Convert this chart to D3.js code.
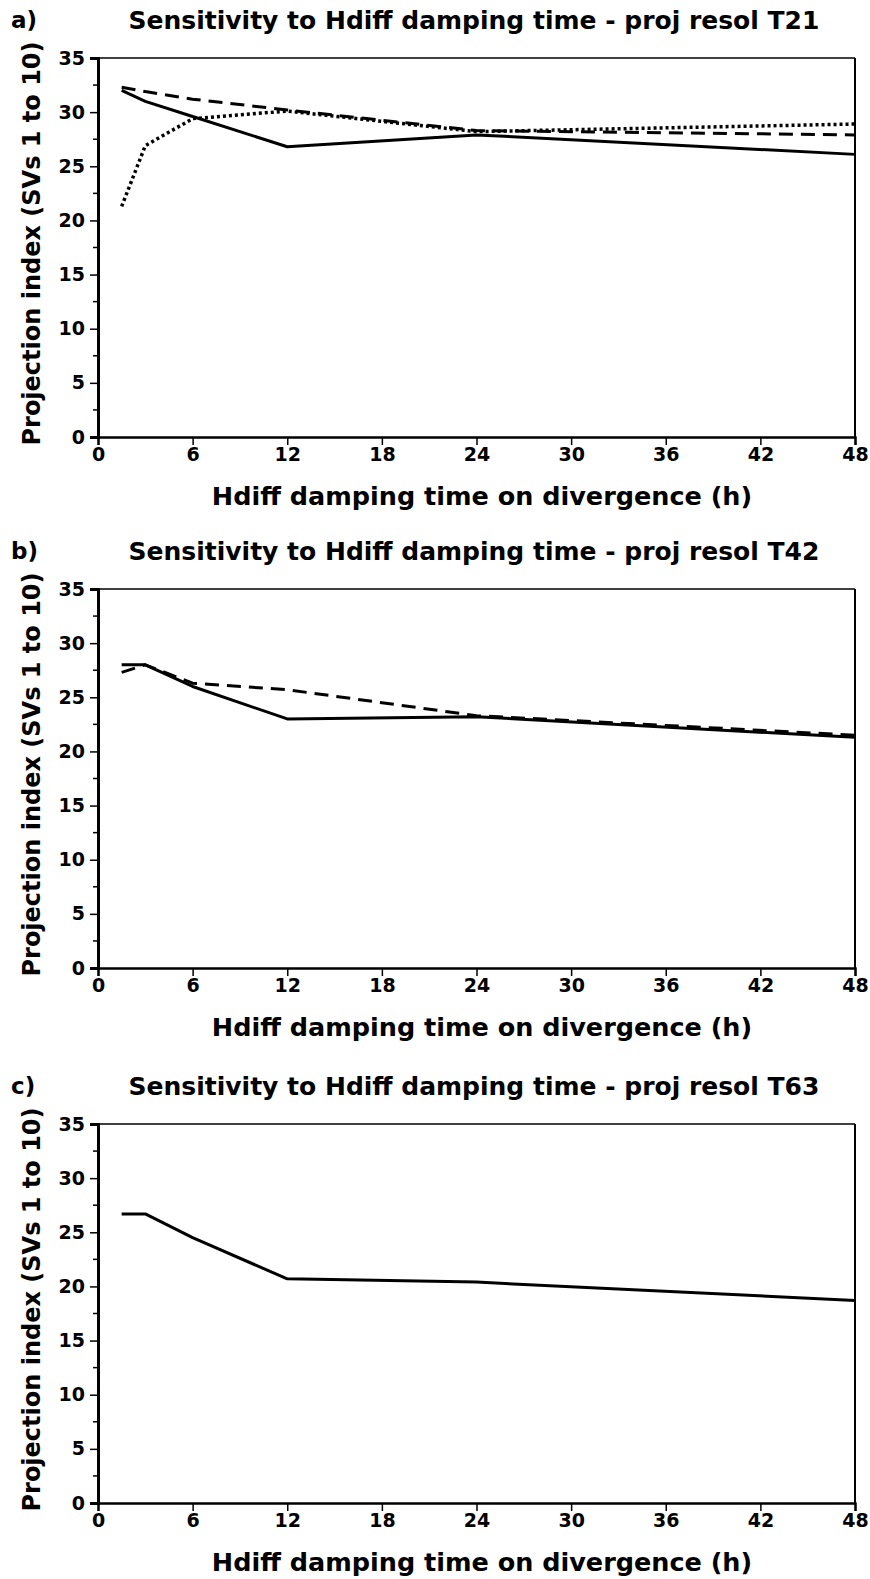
<!DOCTYPE html>
<html>
<head>
<meta charset="utf-8">
<script src="https://cdn.jsdelivr.net/npm/d3@7"></script>
<style>
  body { margin: 0; background: #fff; }
  svg text { font-family: "DejaVu Sans", "Liberation Sans", Arial, sans-serif; font-weight: bold; fill: #000; }
</style>
</head>
<body>
<svg id="chart" width="870" height="1579"></svg>
<script>
// damping time (h) at which each run was done
var hours = [1.5, 3, 6, 12, 24, 48];

// panel a) T21
var t21Solid  = [32.0, 31.0, 29.6, 26.8, 27.9, 26.1];
var t21Dashed = [32.3, 31.9, 31.2, 30.2, 28.3, 27.9];
var t21Dotted = [21.3, 26.9, 29.4, 30.1, 28.2, 28.9];

// panel b) T42
var t42Solid  = [28.0, 28.0, 26.0, 23.0, 23.2, 21.3];
var t42Dashed = [27.3, 28.0, 26.3, 25.7, 23.3, 21.5];

// panel c) T63
var t63Solid  = [26.7, 26.7, 24.5, 20.7, 20.4, 18.7];

var xTicks = [0, 6, 12, 18, 24, 30, 36, 42, 48];
var yTicks = [0, 5, 10, 15, 20, 25, 30, 35];
var yMinor = [2.5, 7.5, 12.5, 17.5, 22.5, 27.5, 32.5];

var panelLetters = ["a)", "b)", "c)"];
var panelTitles = [
    "Sensitivity to Hdiff damping time - proj resol T21",
    "Sensitivity to Hdiff damping time - proj resol T42",
    "Sensitivity to Hdiff damping time - proj resol T63"
];
var xTitle = "Hdiff damping time on divergence (h)";
var yTitle = "Projection index (SVs 1 to 10)";

var panelSeries = [
    [{v: t21Solid, style: "solid"}, {v: t21Dashed, style: "dashed"}, {v: t21Dotted, style: "dotted"}],
    [{v: t42Solid, style: "solid"}, {v: t42Dashed, style: "dashed"}],
    [{v: t63Solid, style: "solid"}]
];

var left = 98, right = 855, plotH = 379;
var panelTops = [58, 589, 1124];

var dashFor = { solid: null, dashed: "14,8", dotted: "3,3" };

var svg = d3.select("#chart");

var x = d3.scaleLinear().domain([0, 48]).range([left, right]);

panelSeries.forEach(function (series, i) {
    var top = panelTops[i];
    var y = d3.scaleLinear().domain([0, 35]).range([top + plotH, top]);
    var g = svg.append("g").attr("class", "panel");

    // titles
    g.append("text")
        .attr("x", 11).attr("y", top - 30)
        .style("font-size", "23px")
        .text(panelLetters[i]);
    g.append("text")
        .attr("x", 474).attr("y", top - 29)
        .attr("text-anchor", "middle")
        .style("font-size", "25px")
        .text(panelTitles[i]);

    // frame top / right
    g.append("line")
        .attr("x1", left).attr("x2", right).attr("y1", top).attr("y2", top)
        .attr("stroke", "#000").attr("stroke-width", 1.6);
    g.append("line")
        .attr("x1", right).attr("x2", right).attr("y1", top).attr("y2", top + plotH)
        .attr("stroke", "#000").attr("stroke-width", 2);

    // y axis
    var yAxis = d3.axisLeft(y).tickValues(yTicks).tickSize(8).tickPadding(5).tickFormat(d3.format("d"));
    var ya = g.append("g").attr("transform", "translate(" + left + ",0)").call(yAxis);
    ya.select(".domain").attr("stroke-width", 3);
    ya.selectAll(".tick line").attr("stroke-width", 1.5);
    ya.selectAll(".tick text").style("font-size", "19px");
    g.selectAll(".yminor").data(yMinor).enter().append("line")
        .attr("x1", left - 5).attr("x2", left)
        .attr("y1", function (d) { return y(d); }).attr("y2", function (d) { return y(d); })
        .attr("stroke", "#000").attr("stroke-width", 1.5);

    // x axis
    var xAxis = d3.axisBottom(x).tickValues(xTicks).tickSize(8).tickPadding(3).tickFormat(d3.format("d"));
    var xa = g.append("g").attr("transform", "translate(0," + (top + plotH) + ")").call(xAxis);
    xa.select(".domain").attr("stroke-width", 2.4);
    xa.selectAll(".tick line").attr("stroke-width", 1.5);
    xa.selectAll(".tick text").style("font-size", "19px");

    // axis titles
    g.append("text")
        .attr("x", 482).attr("y", top + plotH + 68)
        .attr("text-anchor", "middle")
        .style("font-size", "25.5px")
        .text(xTitle);
    g.append("text")
        .attr("transform", "translate(40," + (top + plotH / 2 - 4) + ") rotate(-90)")
        .attr("text-anchor", "middle")
        .style("font-size", "24px")
        .text(yTitle);

    // lines
    var line = d3.line()
        .x(function (d, k) { return x(hours[k]); })
        .y(function (d) { return y(d); });
    series.forEach(function (s) {
        g.append("path")
            .datum(s.v)
            .attr("d", line)
            .attr("fill", "none")
            .attr("stroke", "#000")
            .attr("stroke-width", s.style === "dotted" ? 3.5 : 3)
            .attr("stroke-linejoin", "round")
            .attr("stroke-dasharray", dashFor[s.style]);
    });
});
</script>
</body>
</html>
